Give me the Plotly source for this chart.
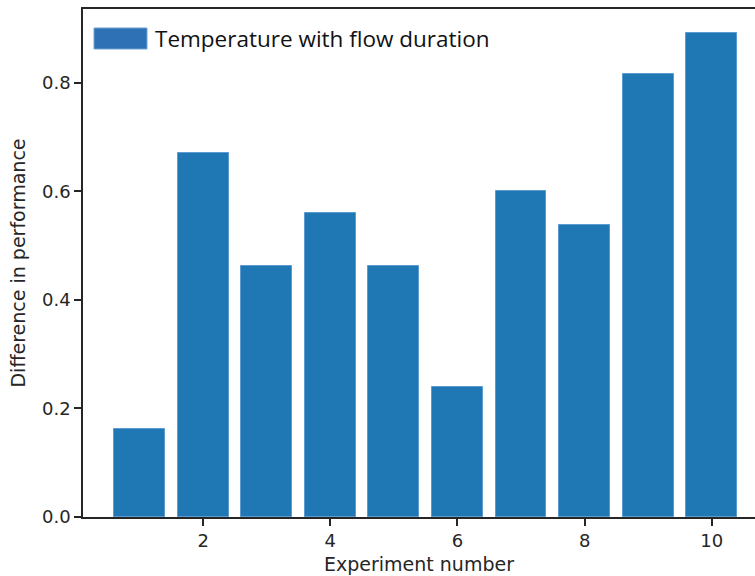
import plotly.graph_objects as go

experiments = [1, 2, 3, 4, 5, 6, 7, 8, 9, 10]
differences = [0.162, 0.671, 0.463, 0.559, 0.463, 0.239, 0.601, 0.537, 0.816, 0.891]
series_name = "Temperature with flow duration"
x_ticks = [2, 4, 6, 8, 10]
y_ticks = [0.0, 0.2, 0.4, 0.6, 0.8]

BLUE = "#1f77b4"
TICKFONT = dict(family="DejaVu Sans", size=18, color="#262626")
TITLEFONT = dict(family="DejaVu Sans", size=19, color="#262626")

fig = go.Figure()
fig.add_trace(go.Bar(
    x=experiments, y=differences, width=0.8, name=series_name,
    marker=dict(color=BLUE, line=dict(color="#5b9bd0", width=1)),
    showlegend=False,
))

# legend (matplotlib-style patch + label)
fig.add_shape(type="rect", xref="paper", yref="paper",
              x0=(94 - 83) / 672, x1=(147 - 83) / 672,
              y0=(517 - 49) / 508, y1=(517 - 28) / 508,
              fillcolor="#2e72b5", line=dict(color="#6fa3d6", width=1))
fig.add_annotation(xref="paper", yref="paper", x=(153 - 83) / 672, y=(517 - 38.5) / 508,
                   text=series_name, showarrow=False, xanchor="left", yanchor="middle",
                   font=dict(family="Open Sans", size=22.5, color="#111111"))

fig.update_layout(
    width=755, height=576,
    margin=dict(l=83, r=0, t=9, b=59),
    plot_bgcolor="white", paper_bgcolor="white",
    bargap=0,
)
fig.update_xaxes(
    range=[0.11, 10.68], tickvals=x_ticks, ticktext=[str(v) for v in x_ticks],
    showline=True, linecolor="#262626", linewidth=1.5, mirror=True,
    ticks="outside", ticklen=7, tickwidth=1.5, tickcolor="#262626",
    showgrid=False, zeroline=False, tickfont=TICKFONT,
    title=dict(text="Experiment number", font=TITLEFONT, standoff=7),
)
fig.update_yaxes(
    range=[0, 0.9356], tickvals=y_ticks, ticktext=[f"{v:.1f}" for v in y_ticks],
    showline=True, linecolor="#262626", linewidth=1.5,
    ticks="outside", ticklen=7, tickwidth=1.5, tickcolor="#262626",
    showgrid=False, zeroline=False, tickfont=TICKFONT,
    title=dict(text="Difference in performance", font=TITLEFONT, standoff=11),
)

fig.write_html("out.html", config={"displayModeBar": False},
               post_script="document.body.style.margin='0';")
